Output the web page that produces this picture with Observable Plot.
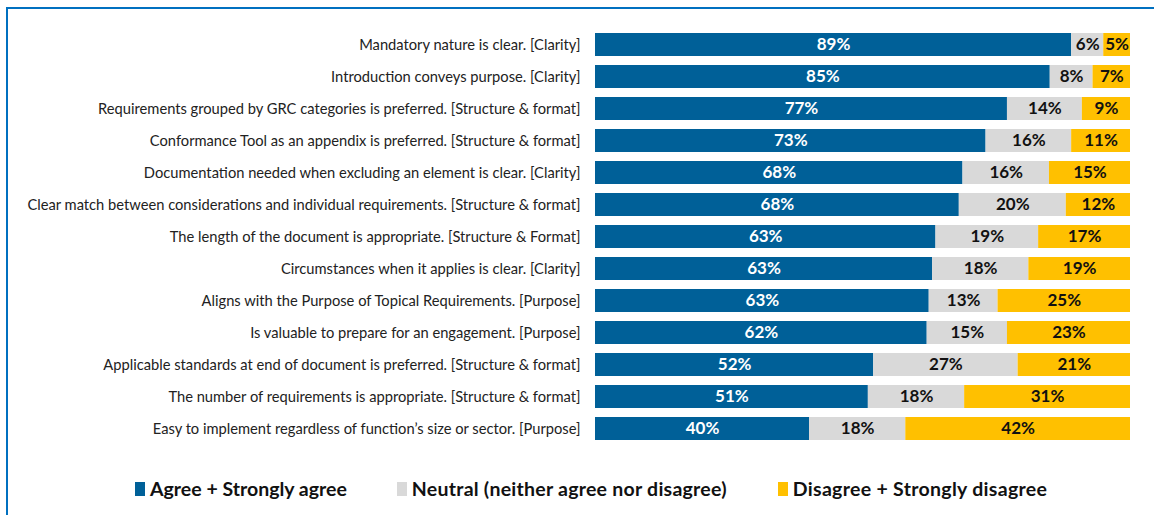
<!DOCTYPE html>
<html>
<head>
<meta charset="utf-8">
<script src="https://cdn.jsdelivr.net/npm/d3@7"></script>
<script src="https://cdn.jsdelivr.net/npm/@observablehq/plot@0.6"></script>
<style>
  html, body { margin: 0; padding: 0; background: #fff; }
  body { width: 1154px; height: 515px; position: relative; overflow: hidden; font-family: Lato, "Open Sans", sans-serif; }
  #frame { position: absolute; left: 6px; top: 7px; right: 0; bottom: 0; border-left: 2px solid #0070c0; border-top: 2px solid #0070c0; }
  #chart { position: absolute; left: 0; top: 0; }
  #legend { position: absolute; top: 477px; left: 135px; display: flex; font-weight: bold; font-size: 19.5px; color: #111; white-space: nowrap; }
  .item { display: flex; align-items: center; margin-right: 50px; }
  .item:nth-child(2) { margin-right: 51px; }
  .item:nth-child(2) span:last-child { letter-spacing: 0.25px; }
  .item:nth-child(3) span:last-child { letter-spacing: 0.3px; }
  .sw { width: 10px; height: 14px; margin-right: 5px; display: inline-block; }
</style>
</head>
<body>
<div id="frame"></div>
<div id="chart"></div>
<div id="legend"></div>
<script>
const categories = [
  "Mandatory nature is clear. [Clarity]",
  "Introduction conveys purpose. [Clarity]",
  "Requirements grouped by GRC categories is preferred. [Structure & format]",
  "Conformance Tool as an appendix is preferred. [Structure & format]",
  "Documentation needed when excluding an element is clear. [Clarity]",
  "Clear match between considerations and individual requirements. [Structure & format]",
  "The length of the document is appropriate. [Structure & Format]",
  "Circumstances when it applies is clear. [Clarity]",
  "Aligns with the Purpose of Topical Requirements. [Purpose]",
  "Is valuable to prepare for an engagement. [Purpose]",
  "Applicable standards at end of document is preferred. [Structure & format]",
  "The number of requirements is appropriate. [Structure & format]",
  "Easy to implement regardless of function\u2019s size or sector. [Purpose]"
];
const agree    = [89, 85, 77, 73, 68, 68, 63, 63, 63, 62, 52, 51, 40];
const neutral  = [6, 8, 14, 16, 16, 20, 19, 18, 13, 15, 27, 18, 18];
const disagree = [5, 7, 9, 11, 15, 12, 17, 19, 25, 23, 21, 31, 42];
const seriesNames = ["Agree + Strongly agree", "Neutral (neither agree nor disagree)", "Disagree + Strongly disagree"];
const seriesColors = ["#006098", "#d9d9d9", "#ffc000"];

const rows = [];
categories.forEach((c, i) => {
  [agree, neutral, disagree].forEach((arr, s) => {
    rows.push({cat: c, series: seriesNames[s], value: arr[i]});
  });
});

const stackOpts = {x: "value", y: "cat", z: "series", offset: "normalize", order: seriesNames};

const plot = Plot.plot({
  width: 1154,
  height: 451,
  marginTop: 21,
  marginBottom: 0,
  marginLeft: 595,
  marginRight: 24,
  style: {fontFamily: "Lato, 'Open Sans', sans-serif", background: "transparent"},
  x: {axis: null, domain: [0, 1]},
  y: {domain: categories, padding: 0.29, label: null},
  color: {domain: seriesNames, range: seriesColors},
  marks: [
    Plot.barX(rows, Plot.stackX({...stackOpts, fill: "series"})),
    Plot.text(rows, Plot.stackX({...stackOpts, text: d => d.series === seriesNames[0] ? d.value + "%" : "", fill: "white", fontWeight: "bold", fontSize: 17})),
    Plot.text(rows, Plot.stackX({...stackOpts, text: d => d.series !== seriesNames[0] ? d.value + "%" : "", fill: "#111", fontWeight: "bold", fontSize: 17})),
    Plot.axisY({tickSize: 0, tickPadding: 15, fontSize: 14.7, label: null, fill: "#222"})
  ]
});
document.getElementById("chart").appendChild(plot);

const legend = document.getElementById("legend");
seriesNames.forEach((n, i) => {
  const it = document.createElement("div");
  it.className = "item";
  it.innerHTML = `<span class="sw" style="background:${seriesColors[i]}"></span><span>${n}</span>`;
  legend.appendChild(it);
});
</script>
</body>
</html>
